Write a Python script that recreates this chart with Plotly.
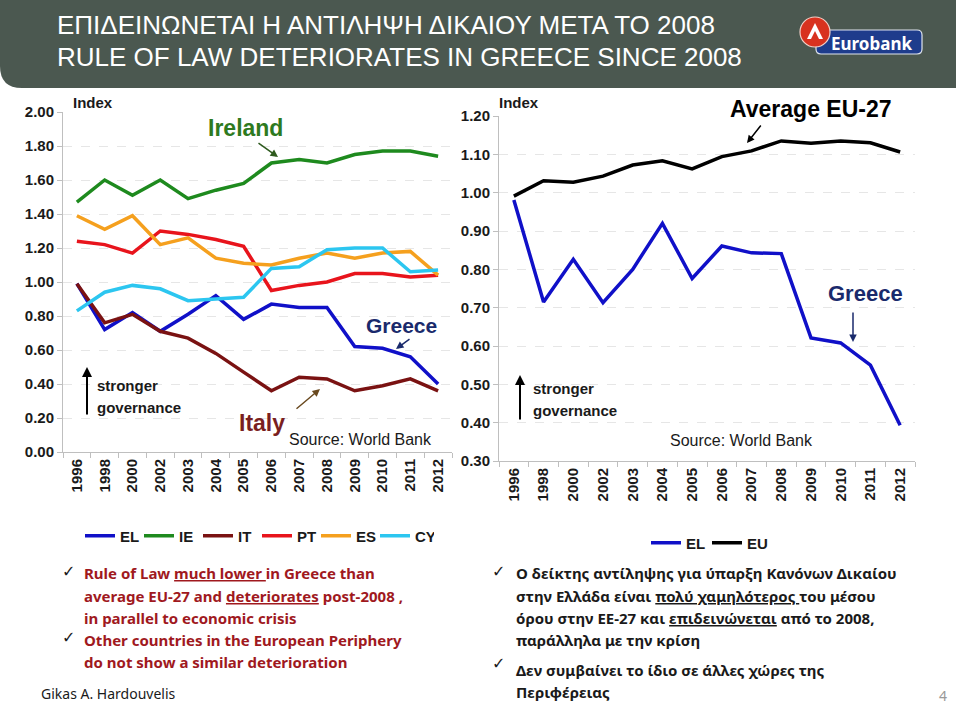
import plotly.graph_objects as go

# ---------------- data ----------------
years = ["1996", "1998", "2000", "2002", "2003", "2004", "2005", "2006",
         "2007", "2008", "2009", "2010", "2011", "2012"]

# left chart: periphery countries
el_left = [0.99, 0.72, 0.82, 0.71, 0.81, 0.92, 0.78, 0.87, 0.85, 0.85, 0.62, 0.61, 0.56, 0.40]
ie = [1.47, 1.60, 1.51, 1.60, 1.49, 1.54, 1.58, 1.70, 1.72, 1.70, 1.75, 1.77, 1.77, 1.74]
it = [0.99, 0.76, 0.81, 0.71, 0.67, 0.58, 0.47, 0.36, 0.44, 0.43, 0.36, 0.39, 0.43, 0.36]
pt = [1.24, 1.22, 1.17, 1.30, 1.28, 1.25, 1.21, 0.95, 0.98, 1.00, 1.05, 1.05, 1.03, 1.04]
es = [1.39, 1.31, 1.39, 1.22, 1.26, 1.14, 1.11, 1.10, 1.14, 1.17, 1.14, 1.17, 1.18, 1.04]
cy = [0.83, 0.94, 0.98, 0.96, 0.89, 0.90, 0.91, 1.08, 1.09, 1.19, 1.20, 1.20, 1.06, 1.07]

# right chart: Greece vs EU-27 average
el_right = [0.981, 0.715, 0.826, 0.713, 0.800, 0.920, 0.776, 0.861, 0.843, 0.841, 0.621, 0.608, 0.550, 0.393]
eu = [0.991, 1.031, 1.027, 1.043, 1.072, 1.083, 1.062, 1.094, 1.109, 1.135, 1.129, 1.135, 1.130, 1.106]

left_series = [("EL", el_left, "#1010c8"), ("IE", ie, "#1e8a1e"), ("IT", it, "#7a1212"),
               ("PT", pt, "#e8141c"), ("ES", es, "#f5a01e"), ("CY", cy, "#2cc6f0")]
right_series = [("EL", el_right, "#1010c8"), ("EU", eu, "#000000")]

# ---------------- figure ----------------
W, H = 960, 706
ARIAL = "Liberation Sans, Arial, sans-serif"
BODY = "Noto Sans, Open Sans, sans-serif"


def P(x, y):
    return x / W, 1 - y / H


fig = go.Figure()
for name, vals, col in left_series:
    fig.add_trace(go.Scatter(x=years, y=vals, name=name, mode="lines",
                             line=dict(color=col, width=3.5),
                             xaxis="x", yaxis="y", legend="legend"))
for name, vals, col in right_series:
    fig.add_trace(go.Scatter(x=years, y=vals, name=name, mode="lines",
                             line=dict(color=col, width=3.5),
                             xaxis="x2", yaxis="y2", legend="legend2"))

tickfont = dict(family=ARIAL, size=15, color="#1a1a1a", weight="bold")
xcommon = dict(type="category", tickangle=-90, ticks="outside", tickson="boundaries",
               ticklen=5, tickcolor="#bfbfbf", showline=True, linecolor="#bfbfbf",
               showgrid=False, tickfont=tickfont, range=[-0.5, 13.5], fixedrange=True)
ycommon = dict(ticks="outside", ticklen=5, tickcolor="#bfbfbf", showline=True,
               linecolor="#bfbfbf", showgrid=True, gridcolor="#e6e6e6", griddash="dash",
               zeroline=False, tickfont=tickfont, tickformat=".2f", fixedrange=True)

legfont = dict(family=ARIAL, size=15, color="#1a1a1a", weight="bold")
fig.update_layout(
    width=W, height=H, margin=dict(l=0, r=0, t=0, b=0, autoexpand=False),
    paper_bgcolor="white", plot_bgcolor="white",
    xaxis=dict(domain=[63 / W, 452 / W], anchor="y", **xcommon),
    yaxis=dict(domain=[1 - 452 / H, 1 - 112 / H], anchor="x", range=[0, 2.0], dtick=0.2, **ycommon),
    xaxis2=dict(domain=[499 / W, 915 / W], anchor="y2", **xcommon),
    yaxis2=dict(domain=[1 - 461 / H, 1 - 116 / H], anchor="x2", range=[0.3, 1.2], dtick=0.1, **ycommon),
    legend=dict(orientation="h", x=P(257, 0)[0], xanchor="center", y=P(0, 536)[1], yanchor="middle",
                font=legfont, itemwidth=30, entrywidth=14, entrywidthmode="pixels",
                bgcolor="rgba(0,0,0,0)"),
    legend2=dict(orientation="h", x=P(707, 0)[0], xanchor="center", y=P(0, 543)[1], yanchor="middle",
                 font=legfont, itemwidth=30, entrywidth=16, entrywidthmode="pixels",
                 bgcolor="rgba(0,0,0,0)"),
    showlegend=True,
)

# ---------------- header ----------------
hdr = "#4b5850"
r = 22
HR = 956
path = (f"M {P(0,0)[0]},{P(0,0)[1]} L {P(HR,0)[0]},{P(HR,0)[1]} L {P(HR,88)[0]},{P(HR,88)[1]} "
        f"L {P(r,88)[0]},{P(r,88)[1]} Q {P(0,88)[0]},{P(0,88)[1]} {P(0,88-r)[0]},{P(0,88-r)[1]} Z")
shapes = [dict(type="path", path=path, xref="paper", yref="paper", fillcolor=hdr, line=dict(width=0), layer="below")]

# Eurobank logo
bx0, by0, bx1, by1, br = 816, 30, 922, 54, 5
lp = (f"M {P(bx0+br,by0)[0]},{P(bx0+br,by0)[1]} L {P(bx1-br,by0)[0]},{P(bx1-br,by0)[1]} "
      f"Q {P(bx1,by0)[0]},{P(bx1,by0)[1]} {P(bx1,by0+br)[0]},{P(bx1,by0+br)[1]} "
      f"L {P(bx1,by1-br)[0]},{P(bx1,by1-br)[1]} Q {P(bx1,by1)[0]},{P(bx1,by1)[1]} {P(bx1-br,by1)[0]},{P(bx1-br,by1)[1]} "
      f"L {P(bx0+br,by1)[0]},{P(bx0+br,by1)[1]} Q {P(bx0,by1)[0]},{P(bx0,by1)[1]} {P(bx0,by1-br)[0]},{P(bx0,by1-br)[1]} "
      f"L {P(bx0,by0+br)[0]},{P(bx0,by0+br)[1]} Q {P(bx0,by0)[0]},{P(bx0,by0)[1]} {P(bx0+br,by0)[0]},{P(bx0+br,by0)[1]} Z")
shapes.append(dict(type="path", path=lp, xref="paper", yref="paper", fillcolor="#1e3c8c",
                   line=dict(color="#dfe4ee", width=1.2)))
cx0, cy0 = P(800, 17)
cx1, cy1 = P(830, 47)
shapes.append(dict(type="circle", xref="paper", yref="paper", x0=cx0, y0=cy1, x1=cx1, y1=cy0,
                   fillcolor="#d8321f", line=dict(color="#f2d0c8", width=1.2)))
tri = (f"M {P(807,39)[0]},{P(807,39)[1]} L {P(815,23)[0]},{P(815,23)[1]} L {P(823,39)[0]},{P(823,39)[1]} "
       f"L {P(819,39)[0]},{P(819,39)[1]} L {P(815,31)[0]},{P(815,31)[1]} L {P(811,39)[0]},{P(811,39)[1]} Z")
shapes.append(dict(type="path", path=tri, xref="paper", yref="paper", fillcolor="white", line=dict(width=0)))

fig.update_layout(shapes=shapes)

ann = []


def txt(x, y, s, size, color="#1a1a1a", bold=False, xanchor="left", family=ARIAL):
    px, py = P(x, y)
    ann.append(dict(x=px, y=py, xref="paper", yref="paper", text=s, showarrow=False,
                    xanchor=xanchor, yanchor="middle", borderpad=0,
                    font=dict(family=family, size=size, color=color, weight="bold" if bold else "normal")))


def arrow(xt, yt, xh, yh, color, head=2, width=1.5):
    px, py = P(xh, yh)
    ann.append(dict(x=px, y=py, xref="paper", yref="paper", text="", showarrow=True,
                    ax=xt - xh, ay=yt - yh, arrowhead=head, arrowsize=1, arrowwidth=width,
                    arrowcolor=color, standoff=0, startstandoff=0))


# title
TITLE = "Liberation Sans Narrow, Arial Narrow, Liberation Sans, sans-serif"
txt(56, 25, "ΕΠΙΔΕΙΝΩΝΕΤΑΙ Η ΑΝΤΙΛΗΨΗ ΔΙΚΑΙΟΥ ΜΕΤΑ ΤΟ 2008", 26, "white", False, family=TITLE)
txt(56, 57, "RULE OF LAW DETERIORATES IN GREECE SINCE 2008", 26, "white", False, family=TITLE)
txt(871, 43, "Eurobank", 17, "white", True, "center", family="Noto Sans, sans-serif")

# left chart labels
txt(72, 102, "Index", 15, "#1a1a1a", True)
txt(246, 128, "Ireland", 23, "#2e7a1e", True, "center")
arrow(257, 142, 278, 157, "#2e5a1e", 2)
txt(401, 325, "Greece", 21, "#1a2a6c", True, "center")
arrow(411, 338, 396, 349, "#1a2a6c", 2)
txt(262, 423, "Italy", 23, "#7a1f1f", True, "center")
arrow(295, 410, 320, 389, "#6a4a20", 2)
txt(288, 439, "Source: World Bank", 16, "#1a1a1a", False)
txt(96, 385, "stronger", 15, "#1a1a1a", True)
txt(96, 407, "governance", 15, "#1a1a1a", True)
arrow(87, 416, 87, 367, "#000000", 2, 2)

# right chart labels
txt(498, 102, "Index", 15, "#1a1a1a", True)
txt(811, 109, "Average EU-27", 23, "#000000", True, "center")
arrow(762, 124, 747, 143, "#000000", 2)
txt(865, 293, "Greece", 22, "#1a2a6c", True, "center")
arrow(853, 311, 853, 342, "#1a2a6c", 2)
txt(669, 440, "Source: World Bank", 16, "#1a1a1a", False)
txt(532, 388, "stronger", 15, "#1a1a1a", True)
txt(532, 410, "governance", 15, "#1a1a1a", True)
arrow(520, 421, 520, 375, "#000000", 2, 2)

# bullet texts
RED = "#a0191e"
CHK = "DejaVu Sans, sans-serif"
txt(61, 571, "✓", 16, "#1a1a1a", False, family=CHK)
txt(61, 637, "✓", 16, "#1a1a1a", False, family=CHK)
left_lines = [(573, "Rule of Law <u>much lower </u>in Greece than"),
              (596, "average EU-27 and <u>deteriorates</u> post-2008 ,"),
              (618, "in parallel to economic crisis"),
              (640, "Other countries in the European Periphery"),
              (662, "do not show a similar deterioration")]
for y, s in left_lines:
    txt(83, y, s, 15, RED, True, family=BODY)

txt(491, 571, "✓", 16, "#1a1a1a", False, family=CHK)
txt(491, 663, "✓", 16, "#1a1a1a", False, family=CHK)
right_lines = [(573, "Ο δείκτης αντίληψης για ύπαρξη Κανόνων Δικαίου"),
               (596, "στην Ελλάδα είναι <u>πολύ χαμηλότερος </u>του μέσου"),
               (618, "όρου στην ΕΕ-27 και <u>επιδεινώνεται</u> από το 2008,"),
               (640, "παράλληλα με την κρίση"),
               (670, "Δεν συμβαίνει το ίδιο σε άλλες χώρες της"),
               (692, "Περιφέρειας")]
for y, s in right_lines:
    txt(515, y, s, 15, "#1a1a1a", True, family=BODY)

txt(40, 693, "Gikas A. Hardouvelis", 14, "#1a1a1a", False, family=BODY)
txt(943, 695, "4", 14, "#999999", False, "center", family=BODY)

fig.update_layout(annotations=ann)
fig.write_html("out.html", config={"displayModeBar": False},
               post_script="document.body.style.margin='0';document.body.style.padding='0';")
